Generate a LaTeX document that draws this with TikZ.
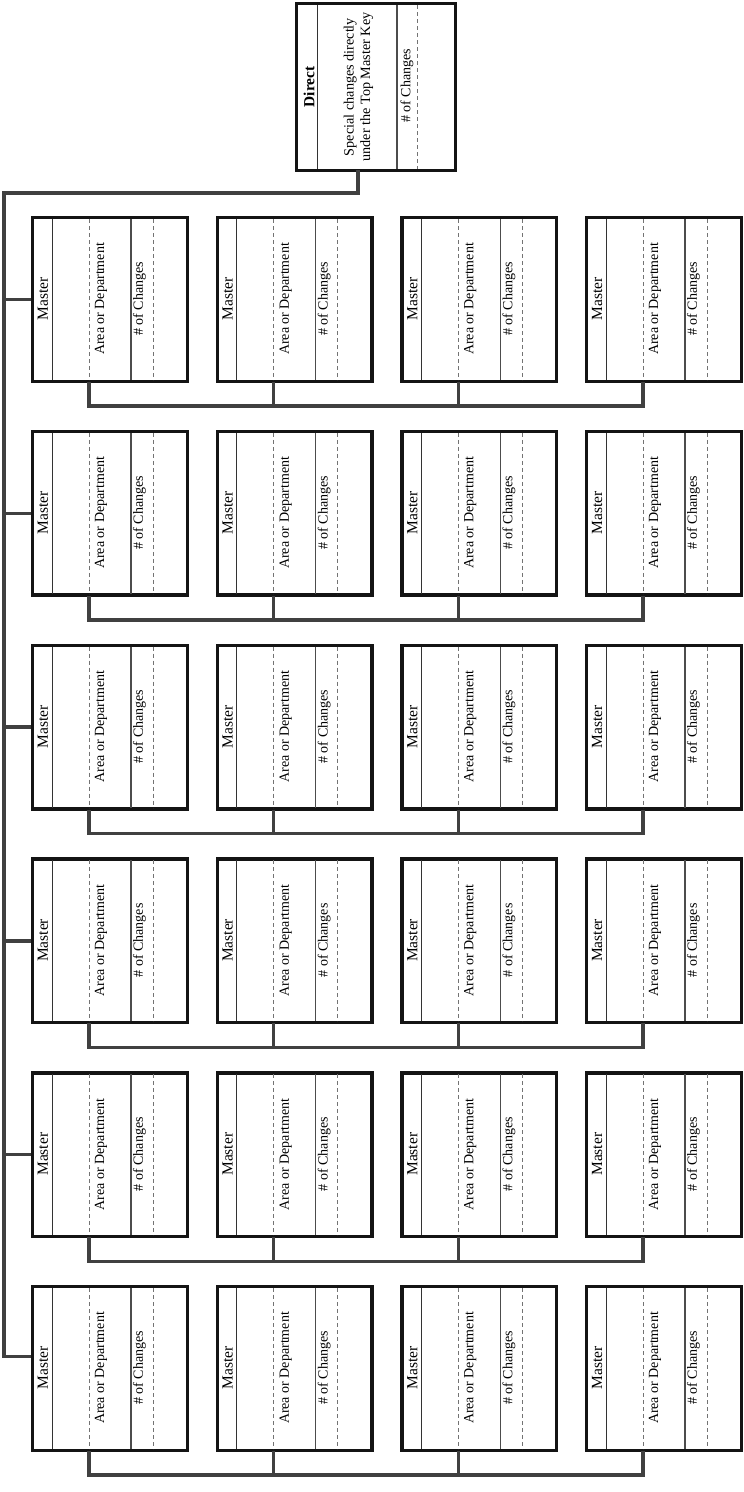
\documentclass[tikz,border=0pt]{standalone}
\usepackage{fontspec}
\setmainfont{Liberation Serif}
\begin{document}
\begin{tikzpicture}[x=1pt,y=-1pt,
  frame/.style={draw=black!92, line width=3.4pt, inner sep=0pt, minimum width=154.6pt, minimum height=163.6pt},
  sep/.style={draw=black!80, line width=0.9pt},
  sepb/.style={draw=black!70, line width=1.3pt},
  dsep/.style={draw=black!55, line width=0.9pt, dash pattern=on 4pt off 3pt},
  conn/.style={draw=black!75, line width=3.4pt},
  lbl/.style={rotate=90, font=\fontsize{14}{16.5}\selectfont, inner sep=0pt, align=center},
  mlbl/.style={lbl, font=\fontsize{15.5}{18}\selectfont}]
\useasboundingbox (0,0) rectangle (744,1492);
% Direct box
\node[frame, minimum width=158.6pt, minimum height=166.6pt] (dir) at (376,87) {};
\draw[sep] (317,5) -- (317,169);
\draw[sepb] (397,5) -- (397,169);
\draw[dsep] (417,5) -- (417,169);
\node[lbl, font=\fontsize{15.4}{18}\selectfont\bfseries] (dirT) at (309,87) {Direct};
\node[lbl, font=\fontsize{14.2}{16.5}\selectfont] (dirS) at (358.5,87) {Special changes directly\\under the Top Master Key};
\node[lbl] (dirC) at (407,86) {\# of Changes};
\coordinate (dj) at (358,170);
\coordinate (t) at (4,193);
% Master boxes
\foreach \r in {0,...,5} {
  \foreach \c in {0,...,3} {
    \pgfmathsetmacro\L{31+184.667*\c}
    \pgfmathsetmacro\T{216+213.8*\r}
    \node[frame] (b\r\c) at (\L+79,\T+83.5) {};
    \draw[sep] (\L+21,\T+3) -- (\L+21,\T+164);
    \draw[dsep] (\L+58,\T+3) -- (\L+58,\T+164);
    \draw[sepb] (\L+100,\T+3) -- (\L+100,\T+164);
    \draw[dsep] (\L+122,\T+3) -- (\L+122,\T+164);
    \node[mlbl] (m\r\c) at (\L+12,\T+83) {Master};
    \node[lbl] (a\r\c) at (\L+70,\T+83) {Area or Department};
    \node[lbl] (n\r\c) at (\L+108.5,\T+83) {\# of Changes};
    \coordinate (p\r\c) at (\L+58,\T+166);
  }
  \pgfmathsetmacro\T{216+213.8*\r}
  \coordinate (q\r) at (89,\T+190);
  \draw[conn] (p\r0) -- (p\r0 |- q\r) -- (p\r3 |- q\r) -- (p\r3);
  \draw[conn] (p\r1) -- (p\r1 |- q\r);
  \draw[conn] (p\r2) -- (p\r2 |- q\r);
}
\foreach \r in {0,...,4} {
  \draw[conn] (t |- b\r0.west) -- (b\r0.west);
}
\coordinate (lb) at ([yshift=12pt]b50.west);
\draw[conn] (t |- lb) -- (lb);
\draw[conn] (dj) |- (t) -- ([yshift=-1.7pt]t |- lb);
\end{tikzpicture}
\end{document}
